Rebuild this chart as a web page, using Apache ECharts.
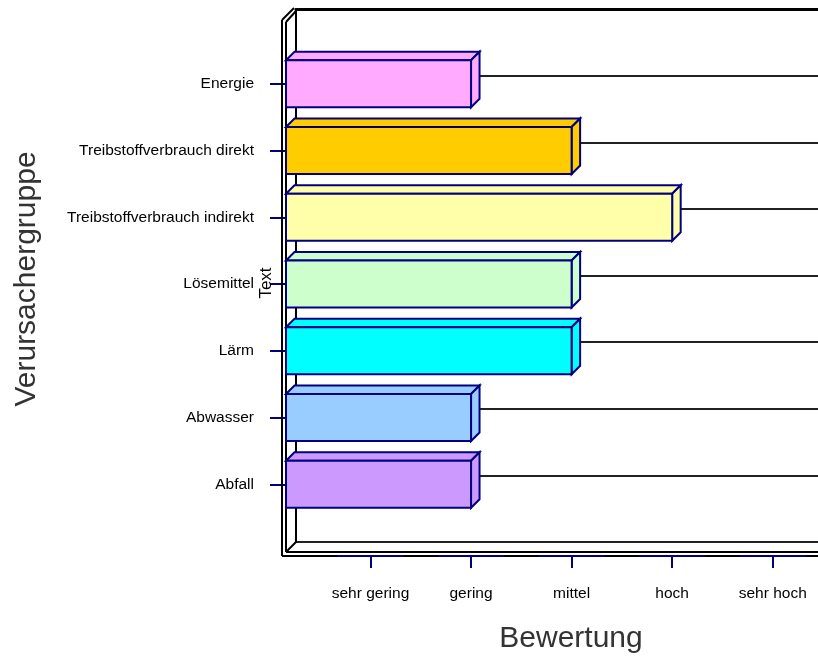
<!DOCTYPE html>
<html>
<head>
<meta charset="utf-8">
<title>Bewertung</title>
<script src="https://cdn.jsdelivr.net/npm/echarts@6/dist/echarts.min.js"></script>
<style>
  html, body { margin: 0; padding: 0; background: #fff; }
  #main { width: 818px; height: 659px; }
</style>
</head>
<body>
<div id="main"></div>
<script>
// Verursachergruppen, von oben nach unten
var categories = ['Energie', 'Treibstoffverbrauch direkt', 'Treibstoffverbrauch indirekt', 'Lösemittel', 'Lärm', 'Abwasser', 'Abfall'];
// Bewertung: 1 = sehr gering ... 5 = sehr hoch
var ratings = [2, 3, 4, 3, 3, 2, 2];
var barColors = ['#FFAAFF', '#FFCC00', '#FFFFAA', '#CCFFCC', '#00FFFF', '#99CCFF', '#CC99FF'];
var levelValues = [1, 2, 3, 4, 5];
var levelLabels = ['sehr gering', 'gering', 'mittel', 'hoch', 'sehr hoch'];

var X_MIN = 0.16, X_MAX = 5.45;
var DEPTH = 8.5;
var NAVY = '#000080';
var LABEL_FONT = '"Liberation Sans", Arial, sans-serif';

// Energie oben (7) ... Abfall unten (1)
var rowPos = categories.map(function (c, i) { return categories.length - i; });
var barData = ratings.map(function (r, i) { return [r, rowPos[i], i]; });

var chart = echarts.init(document.getElementById('main'));

function renderBar(params, api) {
  var pos = api.value(1);
  var start = api.coord([X_MIN, pos]);
  var end = api.coord([api.value(0), pos]);
  var h = api.size([0, 1])[1] * 0.705;
  var x0 = start[0], x1 = end[0];
  var yt = end[1] - h / 2, yb = end[1] + h / 2;
  var style = { fill: barColors[api.value(2)], stroke: NAVY, lineWidth: 2 };
  return {
    type: 'group',
    children: [
      { type: 'polygon', shape: { points: [[x0, yt], [x0 + DEPTH, yt - DEPTH], [x1 + DEPTH, yt - DEPTH], [x1, yt]] }, style: style },
      { type: 'polygon', shape: { points: [[x1, yt], [x1 + DEPTH, yt - DEPTH], [x1 + DEPTH, yb - DEPTH], [x1, yb]] }, style: style },
      { type: 'rect', shape: { x: x0, y: yt, width: x1 - x0, height: h }, style: style }
    ]
  };
}

// vordere Wand (linke Kante und Boden) plus blaue Striche an den Stufen
function renderFrame(params, api) {
  var cs = params.coordSys;
  var l = cs.x, t = cs.y, r = cs.x + cs.width, b = cs.y + cs.height;
  function seg(x1, y1, x2, y2, color) {
    return { type: 'line', shape: { x1: x1, y1: y1, x2: x2, y2: y2 }, style: { stroke: color || '#000', lineWidth: 2 } };
  }
  var parts = [
    seg(l - 4, t + 3, l - 4, b + 5),
    seg(l, t + 5, l, b + 1),
    seg(l - 4, b + 5, r, b + 5),
    seg(l, b + 1, r, b + 1),
    seg(l - 4, t + 3, l + 8, t - 9),
    seg(l, t + 5, l + 10, t - 6),
    seg(l, b + 1, l + 10, b - 9)
  ];
  levelValues.forEach(function (v) {
    var p = api.coord([v, 0]);
    parts.push(seg(p[0] - 33, b + 5, p[0] + 33, b + 5, NAVY));
  });
  return { type: 'group', children: parts };
}

var option = {
  animation: false,
  backgroundColor: '#fff',
  grid: [
    { left: 286, right: 0, top: 17, height: 534 },   // vorne
    { left: 296, right: 0, top: 9, height: 533 }     // Rueckwand
  ],
  xAxis: [
    {
      gridIndex: 0, type: 'value', min: X_MIN, max: X_MAX, position: 'bottom', offset: 5,
      axisLine: { show: false, onZero: false },
      axisTick: { show: true, customValues: levelValues, length: 12, lineStyle: { color: NAVY, width: 2 } },
      axisLabel: {
        customValues: levelValues,
        formatter: function (v) { return levelLabels[levelValues.indexOf(v)]; },
        margin: 30, fontFamily: LABEL_FONT, fontSize: 15.5, color: '#000'
      },
      splitLine: { show: false }
    },
    {
      gridIndex: 1, type: 'value', min: 0, max: 1, position: 'top',
      axisLine: { show: true, onZero: false, lineStyle: { color: '#000', width: 3 } },
      axisTick: { show: false }, axisLabel: { show: false }, splitLine: { show: false }
    }
  ],
  yAxis: [
    {
      gridIndex: 0, type: 'value', min: 0, max: 8,
      axisLine: { show: false, onZero: false },
      axisTick: { show: true, customValues: rowPos, length: 16, lineStyle: { color: NAVY, width: 2 } },
      axisLabel: {
        customValues: rowPos,
        formatter: function (v) { return categories[categories.length - v]; },
        margin: 32, fontFamily: LABEL_FONT, fontSize: 15.5, color: '#000'
      },
      splitLine: { show: false }
    },
    {
      gridIndex: 1, type: 'value', min: 0, max: 8, interval: 1,
      axisLine: { show: true, onZero: false, lineStyle: { color: '#000', width: 2 } },
      axisTick: { show: false }, axisLabel: { show: false },
      splitLine: { show: true, lineStyle: { color: '#222', width: 2 } }
    }
  ],
  graphic: [
    {
      type: 'text', z: 10, x: 27, y: 279, rotation: Math.PI / 2,
      style: { text: 'Verursachergruppe', font: '30px "Liberation Sans", Arial, sans-serif', fill: '#333', align: 'center', verticalAlign: 'middle' }
    },
    {
      type: 'text', z: 10, x: 571, y: 639,
      style: { text: 'Bewertung', font: '30px "Liberation Sans", Arial, sans-serif', fill: '#333', align: 'center', verticalAlign: 'middle' }
    },
    {
      type: 'text', z: 10, x: 266, y: 283, rotation: Math.PI / 2,
      style: { text: 'Text', font: '17px "Liberation Sans", Arial, sans-serif', fill: '#000', align: 'center', verticalAlign: 'middle' }
    }
  ],
  series: [
    {
      type: 'custom', name: 'Rahmen', xAxisIndex: 0, yAxisIndex: 0, z: 3, silent: true,
      renderItem: renderFrame,
      encode: { x: 0, y: 1 },
      data: [[X_MIN, 0]]
    },
    {
      type: 'custom', name: 'Bewertung', xAxisIndex: 0, yAxisIndex: 0, z: 5,
      renderItem: renderBar,
      encode: { x: 0, y: 1 },
      data: barData
    }
  ]
};

chart.setOption(option);
</script>
</body>
</html>
